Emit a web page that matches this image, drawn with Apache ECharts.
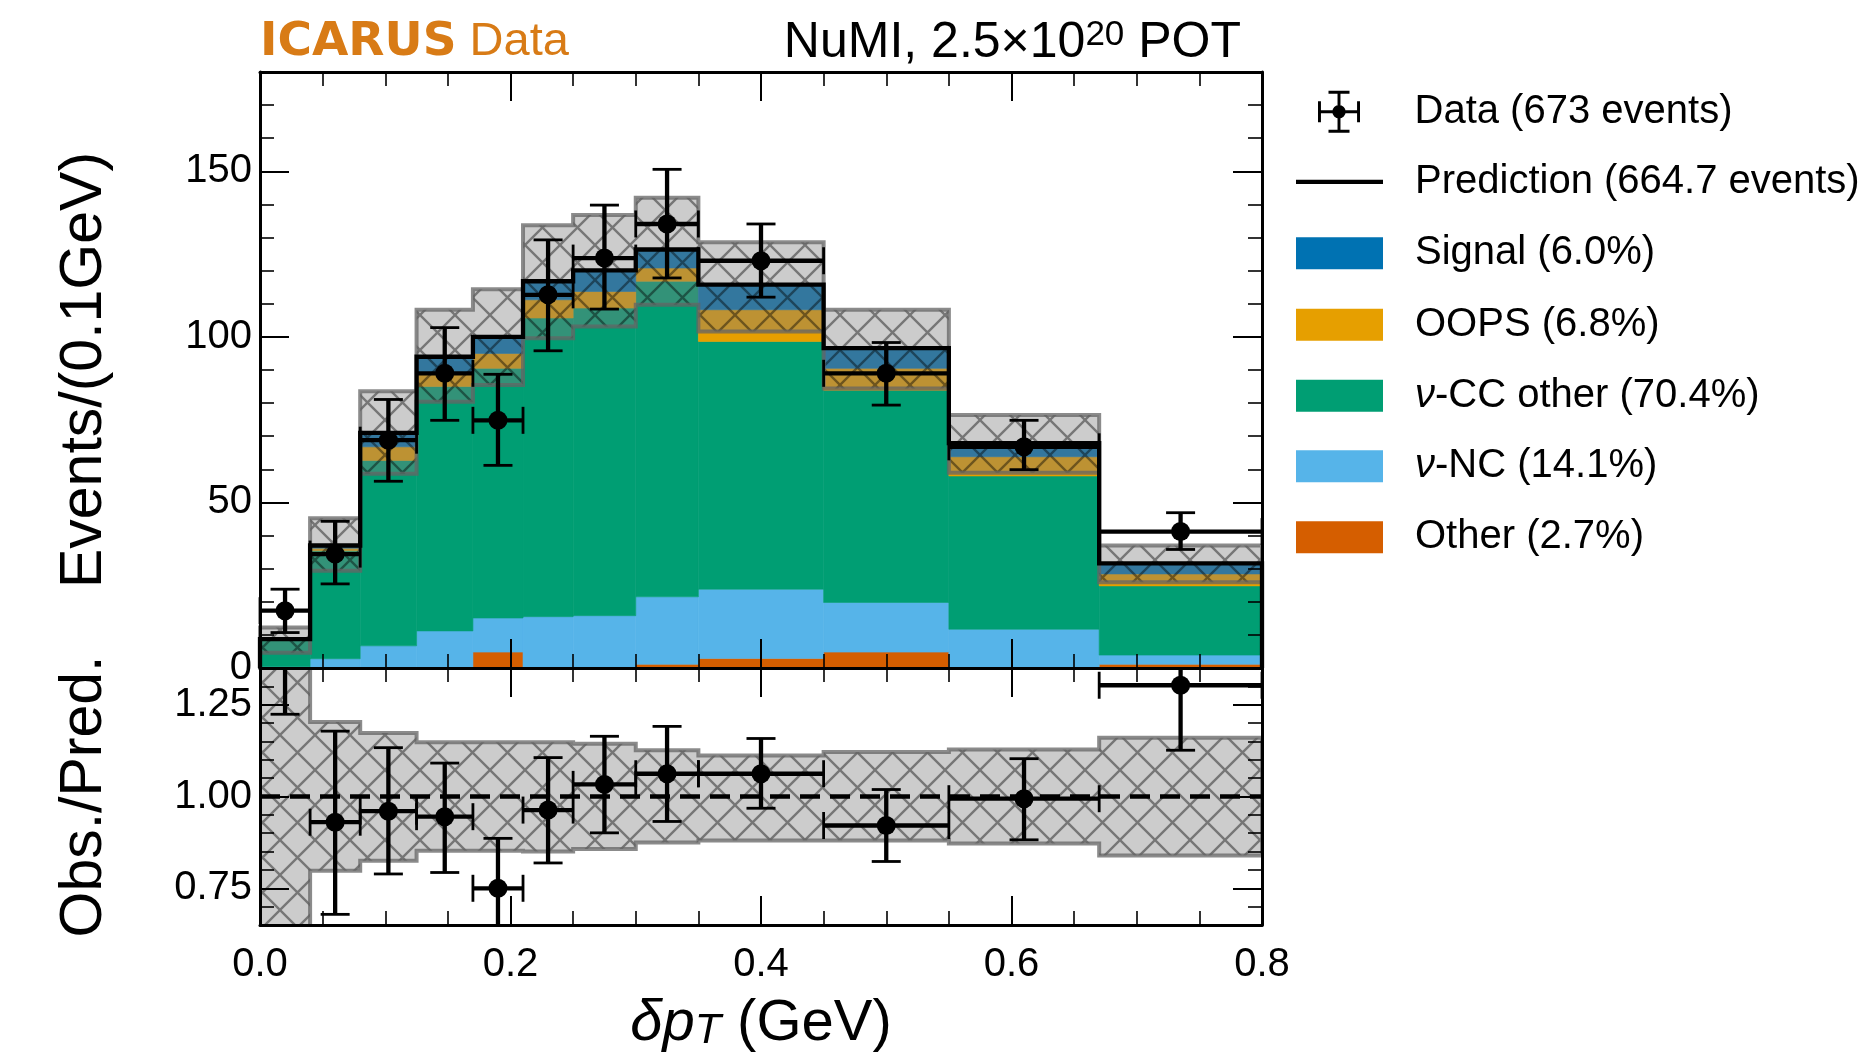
<!DOCTYPE html>
<html><head><meta charset="utf-8">
<script src="https://cdn.jsdelivr.net/npm/echarts@6.0.0/dist/echarts.min.js"></script>
<style>html,body{margin:0;padding:0;background:#fff}#c{width:1871px;height:1057px}</style>
</head><body><div id="c"></div>
<script>
// ---------------- data ----------------
const binEdges   = [0, 0.04, 0.08, 0.125, 0.17, 0.21, 0.25, 0.30, 0.35, 0.45, 0.55, 0.67, 0.80];
const otherVals  = [0.0, 0.0, 0.0, 0.0, 4.8, 0.3, 0.2, 1.1, 2.9, 4.8, 0.0, 1.1];
const ncVals     = [0.4, 2.8, 6.7, 11.2, 10.3, 15.2, 15.6, 20.4, 20.9, 15.0, 11.7, 2.8];
const ccVals     = [7.9, 32.6, 56.0, 73.8, 75.4, 90.2, 92.9, 95.3, 74.8, 64.1, 46.3, 20.9];
const oopsVals   = [0.2, 0.8, 4.1, 4.0, 4.5, 5.5, 5.0, 4.0, 9.6, 6.6, 5.8, 3.6];
const signalVals = [0.2, 0.8, 4.2, 5.0, 5.0, 5.6, 6.4, 5.6, 7.6, 6.1, 4.1, 3.2];

const dataVals = [17.3, 34.4, 68.8, 89.0, 74.8, 112.7, 123.8, 134.1, 123.0, 89.0, 66.8, 41.2];
const dataLo   = [10.7, 25.4, 56.4, 74.8, 61.2, 95.8, 108.4, 117.8, 112.0, 79.4, 59.9, 35.8];
const dataHi   = [23.8, 44.3, 81.1, 102.8, 88.7, 129.3, 139.8, 150.6, 134.1, 98.3, 74.8, 46.9];

const bandLo = [4.6, 29.4, 58.7, 80.4, 85.5, 99.6, 103.1, 109.7, 101.6, 84.4, 59.0, 25.9];
const bandHi = [12.2, 45.2, 83.6, 108.2, 114.4, 133.7, 136.8, 142.0, 128.6, 108.2, 76.4, 37.0];

const ratioVals   = [1.99, 0.93, 0.96, 0.945, 0.75, 0.963, 1.033, 1.062, 1.062, 0.921, 0.994, 1.303];
const ratioLo     = [1.224, 0.679, 0.789, 0.793, 0.60, 0.819, 0.901, 0.932, 0.968, 0.823, 0.882, 1.126];
const ratioHi     = [2.74, 1.178, 1.133, 1.091, 0.886, 1.106, 1.164, 1.191, 1.158, 1.019, 1.103, 1.48];
const ratioBandLo = [0.53, 0.798, 0.825, 0.852, 0.852, 0.850, 0.857, 0.875, 0.880, 0.880, 0.872, 0.839];
const ratioBandHi = [1.40, 1.203, 1.173, 1.148, 1.148, 1.148, 1.144, 1.126, 1.112, 1.121, 1.128, 1.160];
const ratioRef    = [[0, 1], [0.8, 1]];

const yTickValues     = [0, 50, 100, 150];
const ratioTickValues = [0.75, 1.0, 1.25];

const legendNames = {
  data: 'Data (673 events)',
  pred: 'Prediction (664.7 events)',
  signal: 'Signal (6.0%)',
  oops: 'OOPS (6.8%)',
  cc: 'ν-CC other (70.4%)',
  nc: 'ν-NC (14.1%)',
  other: 'Other (2.7%)'
};

// ---------------- helpers ----------------
const FONT = 'Liberation Sans';
function makeHatch() {
  const s = 35;
  const c = document.createElement('canvas'); c.width = s; c.height = s;
  const g = c.getContext('2d');
  g.fillStyle = 'rgba(128,128,128,0.40)'; g.fillRect(0, 0, s, s);
  g.strokeStyle = 'rgba(0,0,0,0.42)'; g.lineWidth = 2.4;
  g.beginPath();
  for (const k of [-s, 0, s]) {
    g.moveTo(k - 4, -4); g.lineTo(k + s + 4, s + 4);
    g.moveTo(k + s + 4, -4); g.lineTo(k - 4, s + 4);
  }
  g.stroke();
  return c;
}
const hatch = makeHatch();

function rectRender(params, api) {
  const p0 = api.coord([api.value(0), api.value(3)]);
  const p1 = api.coord([api.value(1), api.value(2)]);
  const col = api.visual('color');
  return { type: 'rect', shape: { x: p0[0], y: p0[1], width: p1[0] - p0[0], height: p1[1] - p0[1] },
           style: { fill: col, stroke: col, lineWidth: 0.6 } };
}
function bandRender(params, api) {
  if (params.dataIndexInside !== 0) return null;
  const n = params.dataInsideLength;
  const top = [], bot = [];
  for (let j = 0; j < n; j++) {
    const x0 = api.value(0, j), x1 = api.value(1, j), lo = api.value(2, j), hi = api.value(3, j);
    top.push(api.coord([x0, hi]), api.coord([x1, hi]));
    bot.push(api.coord([x0, lo]), api.coord([x1, lo]));
  }
  const pts = top.concat(bot.reverse());
  return { type: 'polygon', shape: { points: pts },
           style: { fill: { image: hatch, repeat: 'repeat' }, stroke: 'rgba(100,100,100,0.75)', lineWidth: 4, lineJoin: 'miter' } };
}
function dataRender(params, api) {
  const x0 = api.value(0), x1 = api.value(1), y = api.value(2), lo = api.value(3), hi = api.value(4);
  const pL = api.coord([x0, y]), pR = api.coord([x1, y]);
  const pLo = api.coord([(x0 + x1) / 2, lo]), pHi = api.coord([(x0 + x1) / 2, hi]);
  const cx = (pL[0] + pR[0]) / 2, cy = pL[1];
  const cap = 14.5, hcap = 13.5;
  const ls = { stroke: '#000', lineWidth: 4.3 };
  const cs = { stroke: '#000', lineWidth: 2.8 };
  return { type: 'group', children: [
    { type: 'line', shape: { x1: cx, y1: pLo[1], x2: cx, y2: pHi[1] }, style: ls },
    { type: 'line', shape: { x1: pL[0], y1: cy, x2: pR[0], y2: cy }, style: ls },
    { type: 'line', shape: { x1: cx - cap, y1: pHi[1], x2: cx + cap, y2: pHi[1] }, style: cs },
    { type: 'line', shape: { x1: cx - cap, y1: pLo[1], x2: cx + cap, y2: pLo[1] }, style: cs },
    { type: 'line', shape: { x1: pL[0], y1: cy - hcap, x2: pL[0], y2: cy + hcap }, style: cs },
    { type: 'line', shape: { x1: pR[0], y1: cy - hcap, x2: pR[0], y2: cy + hcap }, style: cs },
    { type: 'circle', shape: { cx: cx, cy: cy, r: 9.5 }, style: { fill: '#000' } }
  ] };
}

// ---------------- build series ----------------
const comps = [
  { name: legendNames.other,  vals: otherVals,  color: '#D55E00' },
  { name: legendNames.nc,     vals: ncVals,     color: '#56B4E9' },
  { name: legendNames.cc,     vals: ccVals,     color: '#009E73' },
  { name: legendNames.oops,   vals: oopsVals,   color: '#E69F00' },
  { name: legendNames.signal, vals: signalVals, color: '#0072B2' }
];
let base = binEdges.slice(0, -1).map(() => 0);
const series = [];
comps.forEach(c => {
  const d = c.vals.map((v, i) => [binEdges[i], binEdges[i + 1], base[i], base[i] + v]);
  base = base.map((b, i) => b + c.vals[i]);
  series.push({ type: 'custom', name: c.name, xAxisIndex: 0, yAxisIndex: 0, z: 2,
    itemStyle: { color: c.color }, renderItem: rectRender, data: d, encode: { x: [0, 1], y: [2, 3] } });
});
const predTotal = base;

series.push({ type: 'custom', name: 'band', xAxisIndex: 0, yAxisIndex: 0, z: 3, silent: true,
  renderItem: bandRender, encode: { x: [0, 1], y: [2, 3] },
  data: bandLo.map((v, i) => [binEdges[i], binEdges[i + 1], v, bandHi[i]]) });

const predLine = [[binEdges[0], 0]].concat(predTotal.map((v, i) => [binEdges[i], v]), [[binEdges[binEdges.length - 1], 0]]);
series.push({ type: 'line', name: legendNames.pred, xAxisIndex: 0, yAxisIndex: 0, z: 4, step: 'end',
  showSymbol: false, symbol: 'none', data: predLine, itemStyle: { color: '#000' },
  lineStyle: { color: '#000', width: 4.3, join: 'miter' }, animation: false });

series.push({ type: 'custom', name: legendNames.data, xAxisIndex: 0, yAxisIndex: 0, z: 5,
  itemStyle: { color: '#000' }, renderItem: dataRender, encode: { x: [0, 1], y: [2, 3, 4] },
  data: dataVals.map((v, i) => [binEdges[i], binEdges[i + 1], v, dataLo[i], dataHi[i]]) });

// ratio panel
series.push({ type: 'custom', name: 'ratioBand', xAxisIndex: 2, yAxisIndex: 4, z: 3, clip: true, silent: true,
  renderItem: bandRender, encode: { x: [0, 1], y: [2, 3] },
  data: ratioBandLo.map((v, i) => [binEdges[i], binEdges[i + 1], v, ratioBandHi[i]]) });
series.push({ type: 'line', name: 'ratioRef', xAxisIndex: 2, yAxisIndex: 4, z: 4, showSymbol: false, symbol: 'none',
  data: ratioRef, lineStyle: { color: '#000', width: 4.5, type: [20, 10] }, animation: false });
series.push({ type: 'custom', name: 'ratioData', xAxisIndex: 2, yAxisIndex: 4, z: 5, clip: true,
  itemStyle: { color: '#000' }, renderItem: dataRender, encode: { x: [0, 1], y: [2, 3, 4] },
  data: ratioVals.map((v, i) => [binEdges[i], binEdges[i + 1], v, ratioLo[i], ratioHi[i]]) });

// ---------------- axes ----------------
const lab = { fontFamily: FONT, fontSize: 40, color: '#000' };
function xAx(grid, pos, showLab, extra) {
  return Object.assign({ type: 'value', gridIndex: grid, position: pos, min: 0, max: 0.8, interval: 0.2, z: 10,
    axisLine: { show: true, onZero: false, lineStyle: { color: '#000', width: 3 } },
    axisTick: { show: true, inside: true, length: 29, lineStyle: { color: '#000', width: 2 } },
    minorTick: { show: true, splitNumber: 4, length: 14, lineStyle: { color: '#000', width: 1.6 } },
    splitLine: { show: false }, minorSplitLine: { show: false },
    axisLabel: Object.assign({ show: showLab, margin: 20, formatter: v => v.toFixed(1) }, lab) }, extra || {});
}
function yMajor(grid, pos, min, max, ticks, showLab, fmt, extra) {
  return Object.assign({ type: 'value', gridIndex: grid, position: pos, min: min, max: max, z: 10,
    axisLine: { show: true, onZero: false, lineStyle: { color: '#000', width: 3 } },
    axisTick: { show: true, inside: true, length: 29, customValues: ticks, lineStyle: { color: '#000', width: 2 } },
    splitLine: { show: false },
    axisLabel: Object.assign({ show: showLab, margin: 8, customValues: ticks, formatter: fmt }, lab) }, extra || {});
}
function yMinor(grid, pos, min, max, interval) {
  return { type: 'value', gridIndex: grid, position: pos, min: min, max: max, interval: interval, z: 10,
    axisLine: { show: false, onZero: false },
    axisTick: { show: true, inside: true, length: 14, lineStyle: { color: '#000', width: 1.6 } },
    splitLine: { show: false }, axisLabel: { show: false } };
}
const nameStyle = { fontFamily: FONT, fontSize: 59, color: '#000' };

const xAxes = [
  xAx(0, 'bottom', false),
  xAx(0, 'top', false),
  xAx(1, 'bottom', true, {
    name: '{i|δp}{s|T}{n| (GeV)}', nameLocation: 'middle', nameGap: 62,
    nameTextStyle: Object.assign({}, nameStyle, { rich: {
      i: { fontFamily: FONT, fontSize: 58, fontStyle: 'italic', lineHeight: 66, verticalAlign: 'bottom', color: '#000' },
      s: { fontFamily: FONT, fontSize: 43, fontStyle: 'italic', lineHeight: 38, verticalAlign: 'bottom', color: '#000' },
      n: { fontFamily: FONT, fontSize: 58, lineHeight: 66, verticalAlign: 'bottom', color: '#000' } } }) }),
  xAx(1, 'top', false)
];
const yAxes = [
  yMajor(0, 'left', 0, 180, yTickValues, true, v => String(v),
    { name: 'Events/(0.1GeV)', nameLocation: 'middle', nameRotate: 90, nameGap: 146, nameTextStyle: nameStyle }),
  yMinor(0, 'left', 0, 180, 10),
  yMajor(0, 'right', 0, 180, yTickValues, false, v => String(v)),
  yMinor(0, 'right', 0, 180, 10),
  yMajor(1, 'left', 0.65, 1.35, ratioTickValues, true, v => v.toFixed(2),
    { name: 'Obs./Pred.', nameLocation: 'middle', nameRotate: 90, nameGap: 146, nameTextStyle: nameStyle }),
  yMinor(1, 'left', 0.65, 1.35, 0.05),
  yMajor(1, 'right', 0.65, 1.35, ratioTickValues, false, v => v.toFixed(2)),
  yMinor(1, 'right', 0.65, 1.35, 0.05)
];

// ---------------- legend ----------------
const dataIcon = 'path://M46.5,0H53.5V100H46.5Z M25,0H75V7H25Z M25,93H75V100H25Z M0,46.5H100V53.5H0Z M0,25H7V75H0Z M93,25H100V75H93Z M66,50A16,16 0 1,1 34,50A16,16 0 1,1 66,50Z';
const legendBase = { orient: 'horizontal', left: 1296, itemWidth: 87, itemHeight: 32, padding: 0, itemGap: 0,
  selectedMode: false, symbolKeepAspect: true,
  formatter: n => n.replace('ν', '{i|ν}'),
  textStyle: { fontFamily: FONT, fontSize: 40, color: '#000', padding: [0, 0, 0, 27],
    rich: { i: { fontFamily: FONT, fontSize: 40, fontStyle: 'italic', color: '#000' } } } };
const legendItems = [
  { name: legendNames.data, icon: dataIcon, center: 111.8, h: 42, left: 1318 },
  { name: legendNames.pred, icon: 'path://M0,0H100V5H0Z', center: 181.8 },
  { name: legendNames.signal, icon: 'rect', center: 253.2 },
  { name: legendNames.oops, icon: 'rect', center: 324.7 },
  { name: legendNames.cc, icon: 'rect', center: 395.7 },
  { name: legendNames.nc, icon: 'rect', center: 466.3 },
  { name: legendNames.other, icon: 'rect', center: 537.3 }
];
const legends = legendItems.map(it => Object.assign({}, legendBase, {
  top: it.center - (it.h ? it.h / 2 : 20),
  left: it.left || legendBase.left,
  itemHeight: it.h || 32,
  data: [{ name: it.name, icon: it.icon }]
}));

// ---------------- chart ----------------
const chart = echarts.init(document.getElementById('c'), null, { renderer: 'canvas', width: 1871, height: 1057 });
chart.setOption({
  animation: false,
  backgroundColor: '#fff',
  grid: [
    { left: 260, top: 72, width: 1002, height: 596, containLabel: false },
    { left: 260, top: 668, width: 1002, height: 257, containLabel: false }
  ],
  xAxis: xAxes,
  yAxis: yAxes,
  legend: legends,
  graphic: [
    { type: 'text', z: 20, style: { x: 260, y: 42.5, align: 'left', verticalAlign: 'middle',
      textAlign: 'left', textVerticalAlign: 'middle',
      text: '{b|ICARUS}{r| Data}',
      rich: { b: { fontFamily: 'DejaVu Sans', fontWeight: 'bold', fontSize: 47, fill: '#D87B16', lineHeight: 50 },
              r: { fontFamily: FONT, fontSize: 47, fill: '#D87B16', lineHeight: 50 } } } },
    { type: 'text', z: 20, style: { x: 1241, y: 43, align: 'right', verticalAlign: 'middle',
      textAlign: 'right', textVerticalAlign: 'middle',
      text: '{n|NuMI, 2.5×10}{s|20}{n| POT}',
      rich: { n: { fontFamily: FONT, fontSize: 50, fill: '#000', lineHeight: 50, verticalAlign: 'top' },
              s: { fontFamily: FONT, fontSize: 35, fill: '#000', lineHeight: 26, verticalAlign: 'top' } } } }
  ],
  series: series
});
</script>
</body></html>
